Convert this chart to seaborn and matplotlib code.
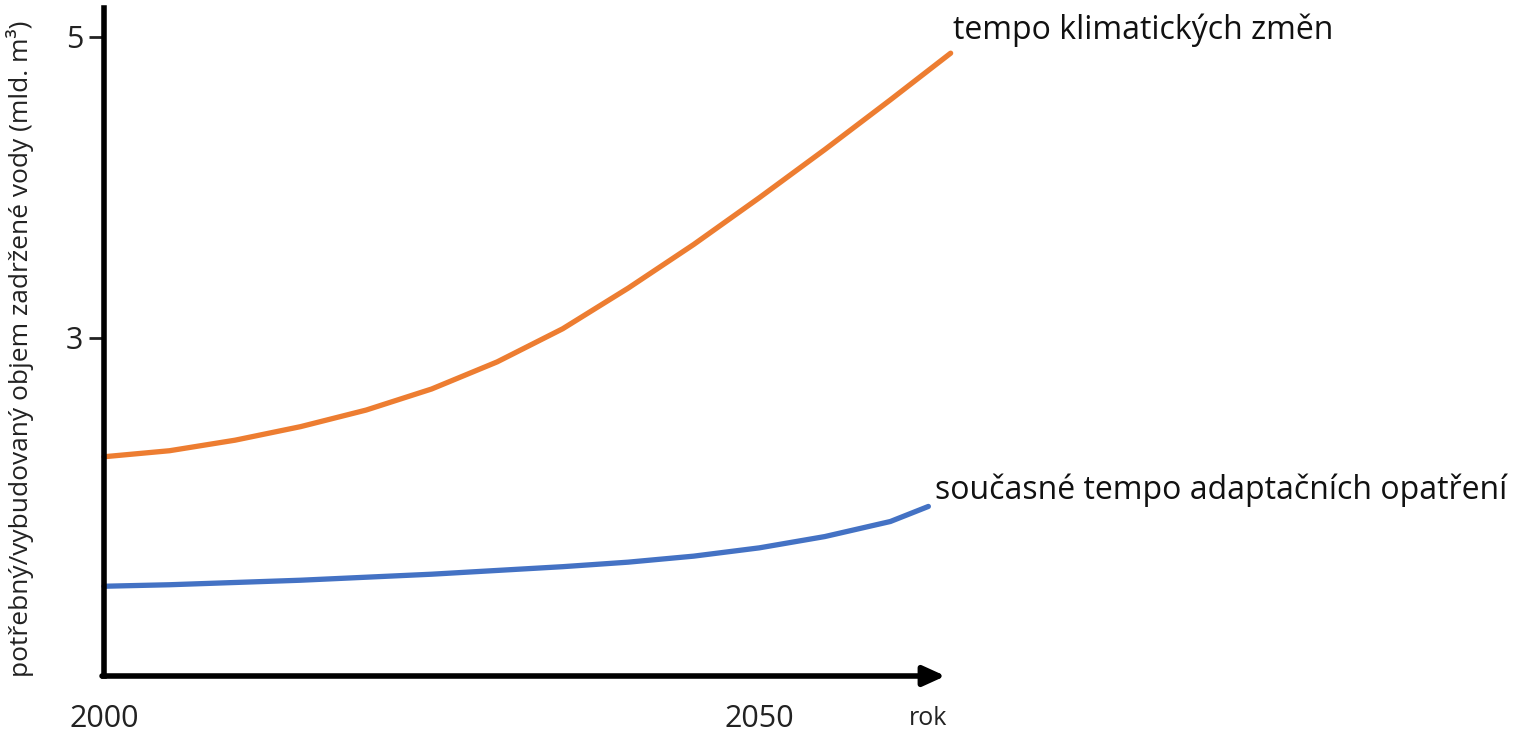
import numpy as np
import pandas as pd
import matplotlib
matplotlib.use("Agg")
import matplotlib.pyplot as plt
import seaborn as sns

# values (mld. m3)
years_clim = [2000, 2005, 2010, 2015, 2020, 2025, 2030, 2035, 2040, 2045, 2050, 2055, 2060, 2064.6]
clim = [2.21, 2.25, 2.32, 2.41, 2.52, 2.66, 2.84, 3.06, 3.33, 3.62, 3.93, 4.25, 4.58, 4.89]

years_adapt = [2000, 2005, 2010, 2015, 2020, 2025, 2030, 2035, 2040, 2045, 2050, 2055, 2060, 2062.9]
adapt = [1.35, 1.36, 1.375, 1.39, 1.41, 1.43, 1.455, 1.48, 1.51, 1.55, 1.605, 1.68, 1.78, 1.88]

label_clim = "tempo klimatických změn"
label_adapt = "současné tempo adaptačních opatření"
ylab = "potřebný/vybudovaný objem zadržené vody (mld. m³)"

df = pd.concat([
    pd.DataFrame({"rok": years_clim, "objem": clim, "serie": label_clim}),
    pd.DataFrame({"rok": years_adapt, "objem": adapt, "serie": label_adapt}),
])

sns.set_theme(style="white")
plt.rcParams["font.family"] = ["Open Sans", "DejaVu Sans"]

fig = plt.figure(figsize=(15.4, 7.36), dpi=100)
ax = fig.add_axes([104 / 1540, 1 - 676 / 736, (969 - 104) / 1540, (676 - 8) / 736])

sns.lineplot(data=df, x="rok", y="objem", hue="serie",
             palette={label_clim: "#ED7D31", label_adapt: "#4472C4"},
             linewidth=3.8, legend=False, ax=ax, clip_on=False)
for ln in ax.lines:
    ln.set_solid_joinstyle("round")
    ln.set_solid_capstyle("round")

ymin = 0.754
ax.set_xlim(2000, 2066)
ax.set_ylim(ymin, 5.19)

for s in ["top", "right", "bottom"]:
    ax.spines[s].set_visible(False)
ax.spines["left"].set_linewidth(4)
ax.spines["left"].set_color("black")

# x axis as arrow
ax.annotate("", xy=(2064.2, ymin), xytext=(1999.85, ymin), xycoords="data",
            arrowprops=dict(arrowstyle="-|>,head_length=1.1,head_width=0.5",
                            color="black", lw=4, shrinkA=0, shrinkB=0),
            annotation_clip=False)

ax.set_yticks([3, 5])
ax.set_yticklabels(["3", "5"], fontsize=22, color="#222222")
ax.tick_params(axis="y", direction="out", length=11, width=2, color="#222222", pad=4, left=True)
ax.set_xticks([2000, 2050])
ax.set_xticklabels(["2000", "2050"], fontsize=22, color="#222222")
ax.tick_params(axis="x", length=0, pad=20)
ax.set_xlabel("")
ax.set_ylabel(ylab, fontsize=19, color="#222222")
ax.yaxis.set_label_coords(-70 / 865, 0.49)

ax.text(2062.9, ymin - 0.28, "rok", fontsize=18, color="#222222", ha="center", va="center")
ax.text(years_clim[-1] + 0.2, 5.04, label_clim, fontsize=23, color="#111111",
        ha="left", va="center")
ax.text(years_adapt[-1] + 0.5, 1.99, label_adapt, fontsize=23, color="#111111",
        ha="left", va="center")

fig.savefig("out.png", dpi=100)
